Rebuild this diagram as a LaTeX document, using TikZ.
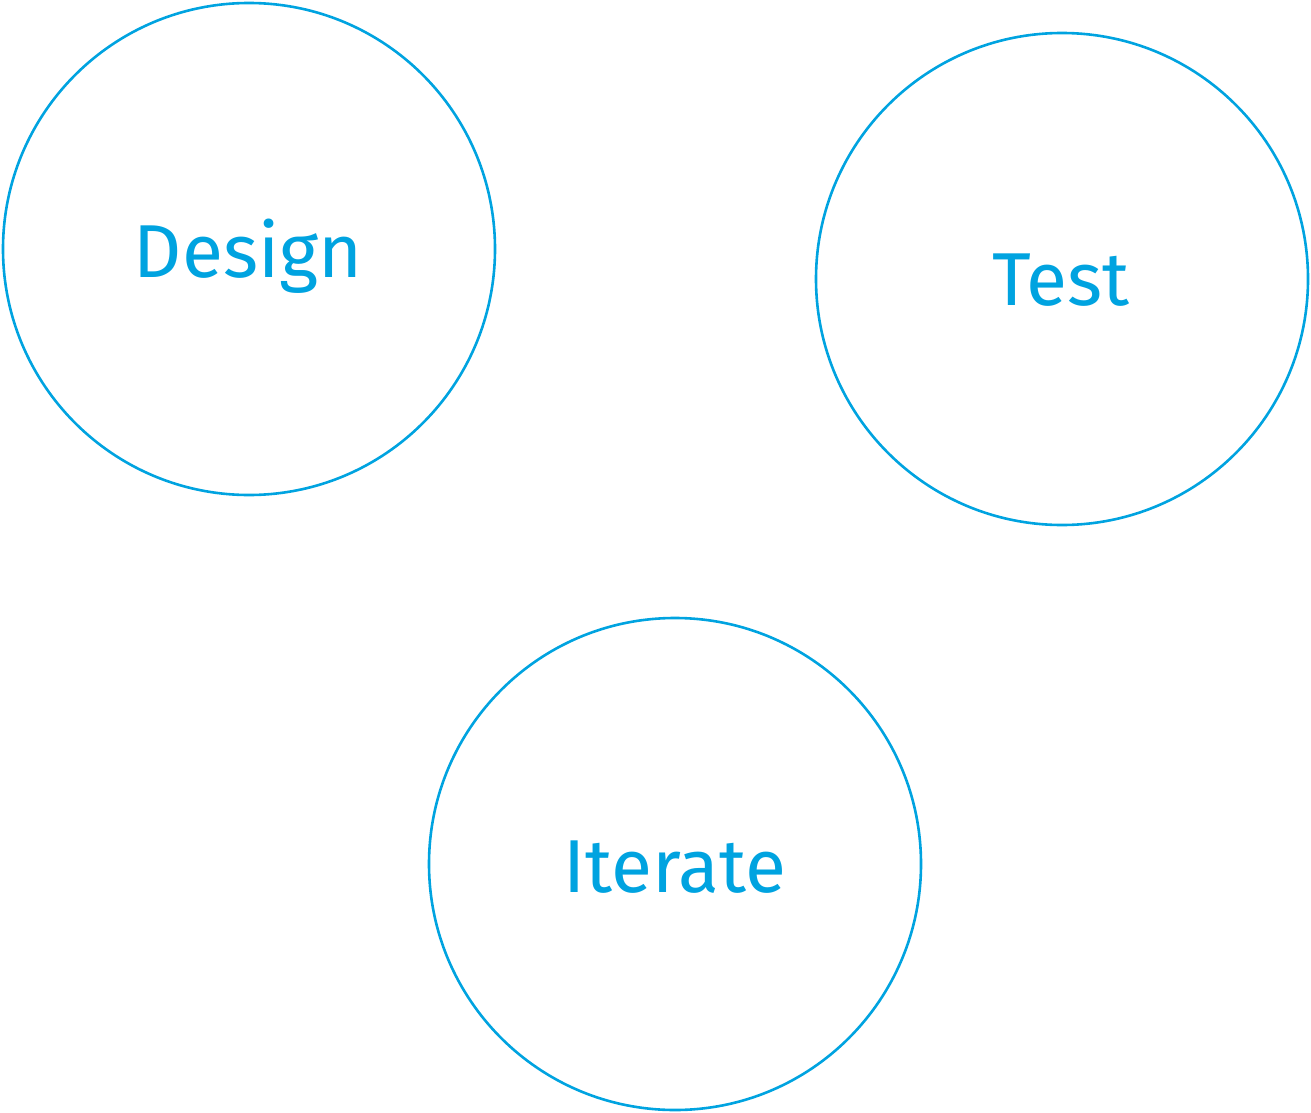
\documentclass[tikz,border=0pt]{standalone}
\usepackage{fontspec}
\setmainfont{Fira Sans}
\definecolor{plexblue}{HTML}{00A3E0}
\begin{document}
\begin{tikzpicture}[x=1pt,y=-1pt,
  stage/.style={circle,draw=plexblue,line width=2.6pt,minimum size=492pt,inner sep=0pt},
  label/.style={text=plexblue,anchor=base,font=\fontsize{75}{75}\selectfont,inner sep=0pt}]
\useasboundingbox (0,0) rectangle (1311,1113);
\node[stage] (design) at (249,249) {};
\node[stage] (test) at (1062,279) {};
\node[stage] (iterate) at (675,864) {};
\node[label] (designtxt) at (248,277) {Design};
\node[label] (testtxt) at (1061,305) {Test};
\node[label] (iteratetxt) at (675,892) {Iterate};
\end{tikzpicture}
\end{document}
